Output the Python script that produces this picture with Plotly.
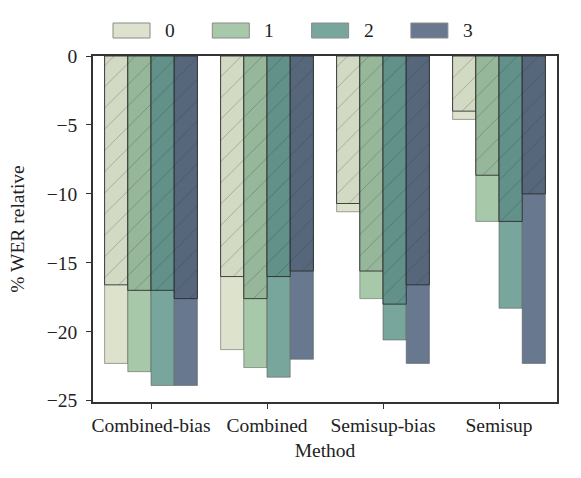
import plotly.graph_objects as go

methods = ["Combined-bias", "Combined", "Semisup-bias", "Semisup"]
series = ["0", "1", "2", "3"]

# total (lighter) bars
total = {
    "0": [-22.3, -21.3, -11.3, -4.6],
    "1": [-22.9, -22.6, -17.6, -12.0],
    "2": [-23.9, -23.3, -20.6, -18.3],
    "3": [-23.9, -22.0, -22.3, -22.3],
}
# hatched (darker) bars
hatched = {
    "0": [-16.6, -16.0, -10.7, -4.0],
    "1": [-17.0, -17.6, -15.6, -8.65],
    "2": [-17.0, -16.0, -18.0, -12.0],
    "3": [-17.6, -15.6, -16.6, -10.0],
}

light_colors = ["#dde2cd", "#a8c8aa", "#78a59c", "#67788f"]
dark_colors = ["#d3dac4", "#97b79b", "#62918a", "#56677c"]

FONT = "Liberation Serif"

fig = go.Figure()
for i, s in enumerate(series):
    fig.add_trace(go.Bar(
        x=methods, y=total[s], name=s, offsetgroup=s,
        marker=dict(color=light_colors[i], line=dict(color="rgba(90,90,90,0.55)", width=1)),
        showlegend=False,
    ))
for i, s in enumerate(series):
    fig.add_trace(go.Bar(
        x=methods, y=hatched[s], name=s + " (hatched)", offsetgroup=s,
        marker=dict(color=dark_colors[i], line=dict(color="rgba(40,40,40,0.85)", width=1),
                    pattern=dict(shape="/", fgcolor="rgba(45,45,45,0.6)", size=15, solidity=0.06)),
        showlegend=False,
    ))

# manual legend with wide patches
L, R, T, B = 93, 557, 56, 402
W, H = R - L, B - T
def px(xp):
    return (xp - L) / W
def py(yp):
    return (B - yp) / H

shapes = []
annotations = []
for i, s in enumerate(series):
    x0 = 113 + 99.3 * i
    shapes.append(dict(type="rect", xref="paper", yref="paper",
                       x0=px(x0), x1=px(x0 + 37), y0=py(38), y1=py(23),
                       fillcolor=light_colors[i], line=dict(color="#8a8a8a", width=1)))
    annotations.append(dict(xref="paper", yref="paper", x=px(x0 + 57), y=py(30.5),
                            text=s, showarrow=False, xanchor="center", yanchor="middle",
                            font=dict(family=FONT, size=19.5, color="#222")))

fig.update_layout(
    width=581, height=478,
    margin=dict(l=L, r=581 - R, t=T, b=478 - B),
    barmode="group", bargap=0.2, bargroupgap=0,
    plot_bgcolor="white", paper_bgcolor="white",
    font=dict(family=FONT, size=19.5, color="#222"),
    shapes=shapes, annotations=annotations,
    showlegend=False,
)
fig.update_xaxes(
    title=dict(text="Method", standoff=8, font=dict(size=19.5)),
    showline=True, linecolor="#333", linewidth=1.5, mirror=True,
    ticks="outside", ticklen=5, tickwidth=1.2, tickcolor="#333",
    showgrid=False, tickfont=dict(size=19.5), range=[-0.5, 3.5],
)
fig.update_yaxes(
    title=dict(text="% WER relative", standoff=17, font=dict(size=19.5)),
    range=[-25.1, 0], dtick=5, tick0=0,
    showline=True, linecolor="#333", linewidth=1.5, mirror=True,
    ticks="outside", ticklen=5, tickwidth=1.2, tickcolor="#333",
    showgrid=False, zeroline=False, tickfont=dict(size=19.5),
    ticklabelstandoff=5,
)

fig.write_html("out.html")
